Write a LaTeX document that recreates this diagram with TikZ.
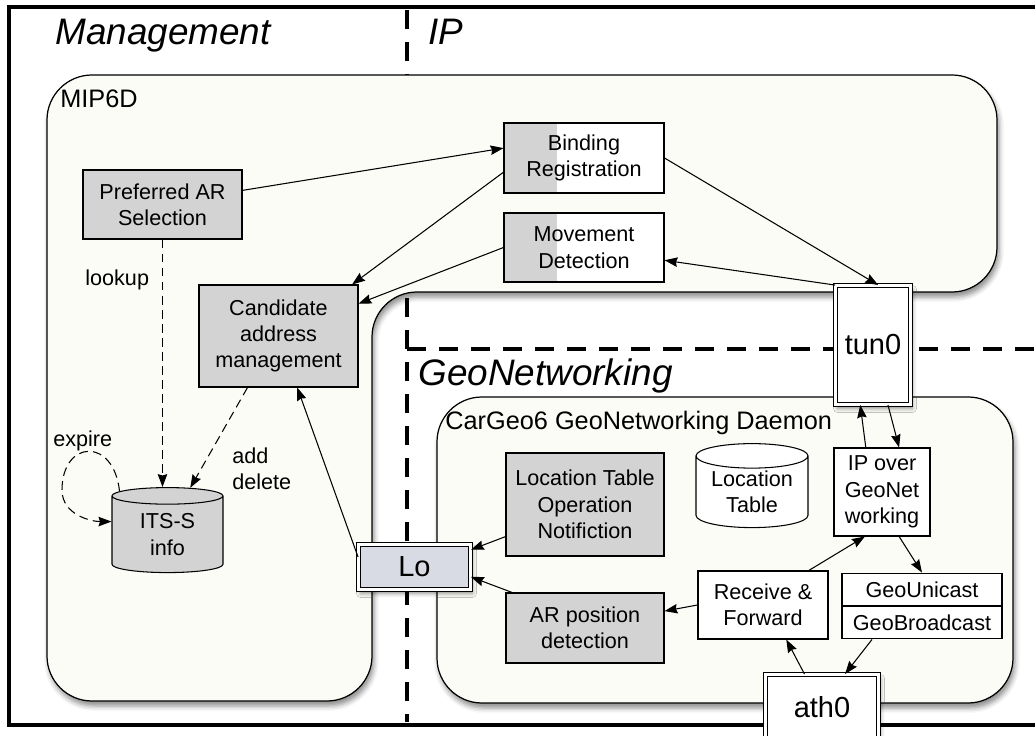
\documentclass[tikz,border=0pt]{standalone}
\usepackage{fontspec}
\setmainfont{Liberation Sans}
\usepackage{tikz}
\usetikzlibrary{arrows.meta, positioning, shapes.geometric, shapes.multipart, shadows.blur, calc}
\usepackage{xcolor}

\definecolor{boxgray}{RGB}{211,211,211}
\definecolor{zonefill}{RGB}{252,252,247}
\definecolor{lofill}{RGB}{216,219,228}

\begin{document}
\begin{tikzpicture}[
    x = 0.02cm, y = -0.02cm,
    every node/.style = {font=\fontsize{12.3}{15}\selectfont},
    module/.style   = {rectangle, draw=black, line width=0.6pt, fill=boxgray, align=center, inner sep=0pt},
    halfmod/.style  = {module, fill=white, path picture={
                        \fill[boxgray] (path picture bounding box.south west) rectangle
                          ($(path picture bounding box.north west)!0.33!(path picture bounding box.north east)$);}},
    plainmod/.style = {module, fill=white},
    store/.style    = {cylinder, shape border rotate=90, aspect=0.3, draw=black, line width=0.6pt,
                       fill=boxgray, align=center, inner sep=0pt},
    iface/.style    = {rectangle, draw, line width=0.5pt, double, double distance=0.07cm, fill=white, inner sep=0pt,
                       font=\fontsize{16.5}{18}\selectfont,
                       blur shadow={shadow xshift=0.04cm, shadow yshift=-0.08cm,
                                    shadow blur radius=0.08cm, shadow opacity=45}},
    zone/.style     = {draw=black, line width=0.7pt, fill=zonefill, rounded corners=0.9cm,
                       blur shadow={shadow xshift=0.04cm, shadow yshift=-0.1cm,
                                    shadow blur radius=0.1cm, shadow opacity=45}},
    title/.style    = {font=\fontsize{21}{24}\selectfont\itshape, anchor=base west, inner sep=0pt},
    tag/.style      = {font=\fontsize{14.4}{16}\selectfont, anchor=base west, inner sep=0pt},
    note/.style     = {anchor=base west, inner sep=0pt},
    link/.style     = {-{Stealth[length=2.6mm, width=1.9mm, inset=0.3mm]}, black, line width=0.6pt},
    dlink/.style    = {link, dash pattern=on 5pt off 3pt},
    divider/.style  = {line width=0.09cm, dash pattern=on 0.38cm off 0.26cm},
]
\useasboundingbox (0,0) rectangle (1035,736);

% Frame and layer dividers
\draw[line width=0.08cm] (9,7) rectangle (1100,724.5);
\draw[divider] (407,10) -- (407,722);
\draw[divider] (407,349) -- (1045,349);

% MIP6D daemon (L-shaped)
\draw[zone] (47,75) -- (997,75) -- (997,292) -- (372,292) -- (372,701) -- (47,701) -- cycle;

% CarGeo6 daemon
\draw[zone] (437,397) rectangle (1013,703);

% Layer and daemon titles
\node[title] (mgmt) at (55,45)   {Management};
\node[title] (ip)   at (428,45)  {IP};
\node[title] (gn)   at (418,386) {GeoNetworking};
\node[tag]   (mip)  at (60,108)  {MIP6D};
\node[tag]   (cg6)  at (445,430) {CarGeo6 GeoNetworking Daemon};

% MIP6D modules
\node[module, minimum width=3.18cm, minimum height=1.38cm] (pref) at (162.5,204.5) {Preferred AR\\Selection};
\node[halfmod, minimum width=3.2cm, minimum height=1.4cm]  (bind) at (584,158)     {Binding\\Registration};
\node[halfmod, minimum width=3.2cm, minimum height=1.38cm] (move) at (584,247.5)   {Movement\\Detection};
\node[module, minimum width=3.18cm, minimum height=2.04cm] (cand) at (278.5,336)   {Candidate\\address\\management};
\node[store, minimum width=2.22cm, minimum height=1.7cm]   (its)  at (167.5,534.5) {ITS-S\\info};

% Interfaces
\node[iface, fill=lofill, minimum width=2.24cm, minimum height=0.9cm] (lo)  at (414.5,567) {Lo};
\node[iface, minimum width=1.5cm, minimum height=2.38cm]              (tun) at (873,345)   {tun0};
\node[iface, minimum width=2.26cm, minimum height=1.3cm]              (ath) at (822,707)   {ath0};

% CarGeo6 modules
\node[module, minimum width=3.16cm, minimum height=2.06cm] (lton)   at (585,504.5) {Location Table\\Operation\\Notifiction};
\node[module, minimum width=3.16cm, minimum height=1.4cm]  (arpos)  at (585,628)   {AR position\\detection};
\node[store, fill=white, minimum width=2.24cm, minimum height=1.68cm] (loctab) at (752,492) {Location\\Table};
\node[plainmod, minimum width=1.92cm, minimum height=1.76cm] (ipgn) at (882,492) {IP over\\GeoNet\\working};
\node[plainmod, minimum width=2.6cm, minimum height=1.36cm]  (recv) at (763,605) {Receive \&\\Forward};
\node[rectangle split, rectangle split parts=2, draw=black, line width=0.6pt, fill=white,
      minimum width=3.2cm, inner xsep=0pt, inner ysep=0.16cm] (geo) at (922,606)
      {GeoUnicast \nodepart{two} GeoBroadcast};

% MIP6D links
\draw[link] (pref.10) -- (bind.173);
\draw[link] (bind.190) -- (cand.35);
\draw[link] (move.west) -- (cand.22);
\draw[link] (bind.east) -- (tun.85);
\draw[link] (tun.north west) -- (move.351);
\draw[dlink] (pref.south) -- (pref.south |- its.north);
\draw[dlink] (cand.239) -- (its.64);
\draw[dlink] (its.138) .. controls +(-6,-55) and +(0,-50) .. (62,490)
                       .. controls +(0,25) and +(-20,0) .. (its.167);
\draw[link] (lo.170) -- (cand.290);

\node[note] (lookup) at (85,286) {lookup};
\node[note] (expire) at (53,447) {expire};
\node[anchor=west, inner sep=0pt, align=left] (adddel) at (232,469) {add\\delete};

% CarGeo6 links
\draw[link] (lton.202) -- (lo.17);
\draw[link] (arpos.154) -- (lo.350);
\draw[link] (recv.west) -- (arpos.12);
\draw[link] (recv.37) -- (ipgn.249);
\draw[link] (ipgn.291) -- (geo.north);
\draw[link] ([xshift=-1cm]geo.south) -- (ath.55);
\draw[link] (ath.118) -- (recv.304);
\draw[link] (ipgn.110) -- (tun.258);
\draw[link] (tun.284) -- (ipgn.69);

\end{tikzpicture}
\end{document}
